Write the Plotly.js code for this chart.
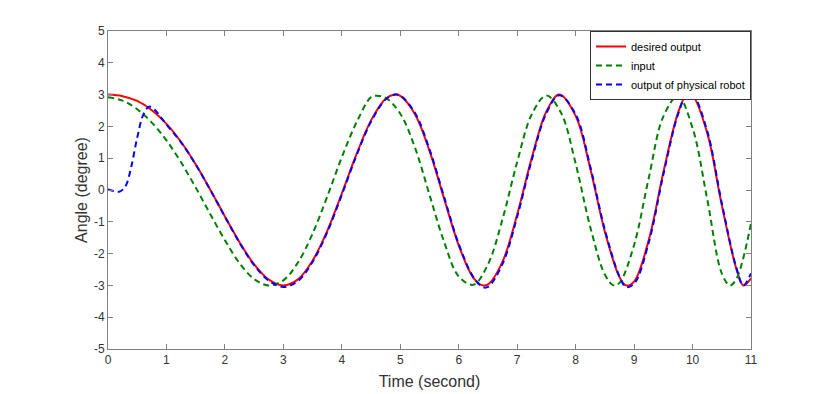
<!DOCTYPE html>
<html>
<head>
<meta charset="utf-8">
<script src="https://cdn.plot.ly/plotly-3.0.1.min.js"></script>
<style>
  html, body { margin: 0; padding: 0; background: #fff; }
  #chart { width: 830px; height: 394px; }
</style>
</head>
<body>
<div id="chart"></div>
<script>
// desired output (red, solid)
const tDesired = [0, 0.25, 0.5, 0.75, 1, 1.25, 1.5, 1.75, 2, 2.25, 2.5, 2.75, 3, 3.25, 3.5, 3.75, 4, 4.25, 4.5, 4.75, 4.91, 5, 5.25, 5.5, 5.75, 6, 6.25, 6.41, 6.5, 6.75, 7, 7.25, 7.5, 7.72, 8, 8.25, 8.5, 8.75, 8.86, 9, 9.25, 9.5, 9.75, 9.9, 10, 10.25, 10.5, 10.75, 10.87, 11];
const desired = [3.00, 2.95, 2.80, 2.51, 2.08, 1.51, 0.81, 0.01, -0.83, -1.64, -2.34, -2.82, -3.00, -2.81, -2.22, -1.29, -0.11, 1.12, 2.19, 2.87, 3.00, 2.96, 2.39, 1.23, -0.27, -1.74, -2.76, -3.00, -2.97, -2.25, -0.77, 1.01, 2.47, 3.00, 2.33, 0.68, -1.31, -2.74, -3.00, -2.88, -1.58, 0.55, 2.42, 3.00, 2.97, 1.80, -0.47, -2.48, -3.00, -2.78];

// input (green, dashed)
const tInput = [0, 0.25, 0.5, 0.75, 1, 1.25, 1.5, 1.75, 2, 2.25, 2.5, 2.75, 3, 3.25, 3.5, 3.75, 4, 4.25, 4.5, 4.6, 4.75, 5, 5.25, 5.5, 5.75, 6, 6.25, 6.5, 6.75, 7, 7.25, 7.5, 7.75, 8, 8.25, 8.5, 8.65, 8.75, 9, 9.25, 9.5, 9.75, 10, 10.25, 10.5, 10.64, 10.75, 11];
const input = [2.92, 2.81, 2.54, 2.12, 1.56, 0.87, 0.08, -0.76, -1.58, -2.30, -2.80, -3.00, -2.84, -2.28, -1.37, -0.21, 1.03, 2.12, 2.92, 2.96, 2.90, 2.40, 1.34, -0.15, -1.63, -2.72, -2.98, -2.34, -0.91, 0.88, 2.38, 2.97, 2.43, 0.83, -1.16, -2.66, -3.00, -2.92, -1.73, 0.37, 2.31, 2.95, 1.95, -0.28, -2.62, -3.00, -2.80, -1.05];

// output of physical robot (blue, dashed)
const tRobot = [0, 0.1, 0.2, 0.3, 0.4, 0.5, 0.6, 0.7, 0.8, 0.9, 1, 1.25, 1.5, 1.75, 2, 2.25, 2.5, 2.75, 3, 3.25, 3.5, 3.75, 4, 4.25, 4.5, 4.75, 4.91, 5, 5.25, 5.5, 5.75, 6, 6.25, 6.41, 6.5, 6.75, 7, 7.25, 7.5, 7.72, 8, 8.25, 8.5, 8.75, 8.86, 9, 9.25, 9.5, 9.75, 9.9, 10, 10.25, 10.5, 10.75, 10.87, 11];
const robot = [0.02, -0.03, -0.05, 0.12, 0.75, 1.65, 2.35, 2.62, 2.52, 2.30, 2.06, 1.50, 0.80, 0.00, -0.84, -1.66, -2.36, -2.85, -3.05, -2.86, -2.26, -1.33, -0.15, 1.08, 2.15, 2.85, 3.00, 2.97, 2.43, 1.28, -0.22, -1.70, -2.74, -3.05, -3.05, -2.32, -0.84, 0.95, 2.42, 2.98, 2.38, 0.74, -1.25, -2.72, -3.05, -2.95, -1.66, 0.48, 2.37, 2.98, 3.00, 1.86, -0.41, -2.45, -3.00, -2.62];

const xTicks = [0, 1, 2, 3, 4, 5, 6, 7, 8, 9, 10, 11];
const yTicks = [-5, -4, -3, -2, -1, 0, 1, 2, 3, 4, 5];
// MATLAB style: plain hyphen as minus sign
const yTickText = ['-5', '-4', '-3', '-2', '-1', '0', '1', '2', '3', '4', '5'];

const traces = [
    {
        x: tDesired, y: desired, type: 'scatter', mode: 'lines',
        name: 'desired output',
        line: { color: '#ff0000', width: 2, shape: 'spline' }
    },
    {
        x: tInput, y: input, type: 'scatter', mode: 'lines',
        name: 'input',
        line: { color: '#008000', width: 2, dash: '6px,4px', shape: 'spline' }
    },
    {
        x: tRobot, y: robot, type: 'scatter', mode: 'lines',
        name: 'output of physical robot',
        line: { color: '#0000ff', width: 2, dash: '6px,4px', shape: 'spline' }
    }
];

const axisCommon = {
    showgrid: false,
    zeroline: false,
    showline: true,
    linecolor: '#808080',
    linewidth: 1,
    mirror: 'ticks',
    ticks: 'inside',
    ticklen: 5,
    tickcolor: '#808080',
    tickfont: { size: 12, color: '#333333' }
};

const layout = {
    width: 830,
    height: 394,
    margin: { l: 108, r: 79, t: 31, b: 45 },
    paper_bgcolor: '#ffffff',
    plot_bgcolor: '#ffffff',
    font: { family: 'Liberation Sans, Arial, sans-serif', color: '#333333' },
    xaxis: Object.assign({}, axisCommon, {
        range: [0, 11],
        tickvals: xTicks,
        title: { text: 'Time (second)', font: { size: 16, color: '#333333' }, standoff: 9 }
    }),
    yaxis: Object.assign({}, axisCommon, {
        range: [-5, 5],
        tickvals: yTicks,
        ticktext: yTickText,
        title: { text: 'Angle (degree)', font: { size: 16, color: '#333333' }, standoff: 2 }
    }),
    showlegend: true,
    legend: {
        x: 1, y: 1, xanchor: 'right', yanchor: 'top',
        bgcolor: '#ffffff',
        bordercolor: '#333333',
        borderwidth: 1,
        font: { size: 11, color: '#000000' },
        tracegroupgap: 0,
        itemwidth: 30
    }
};

Plotly.newPlot('chart', traces, layout, { staticPlot: true, displayModeBar: false });
</script>
</body>
</html>
